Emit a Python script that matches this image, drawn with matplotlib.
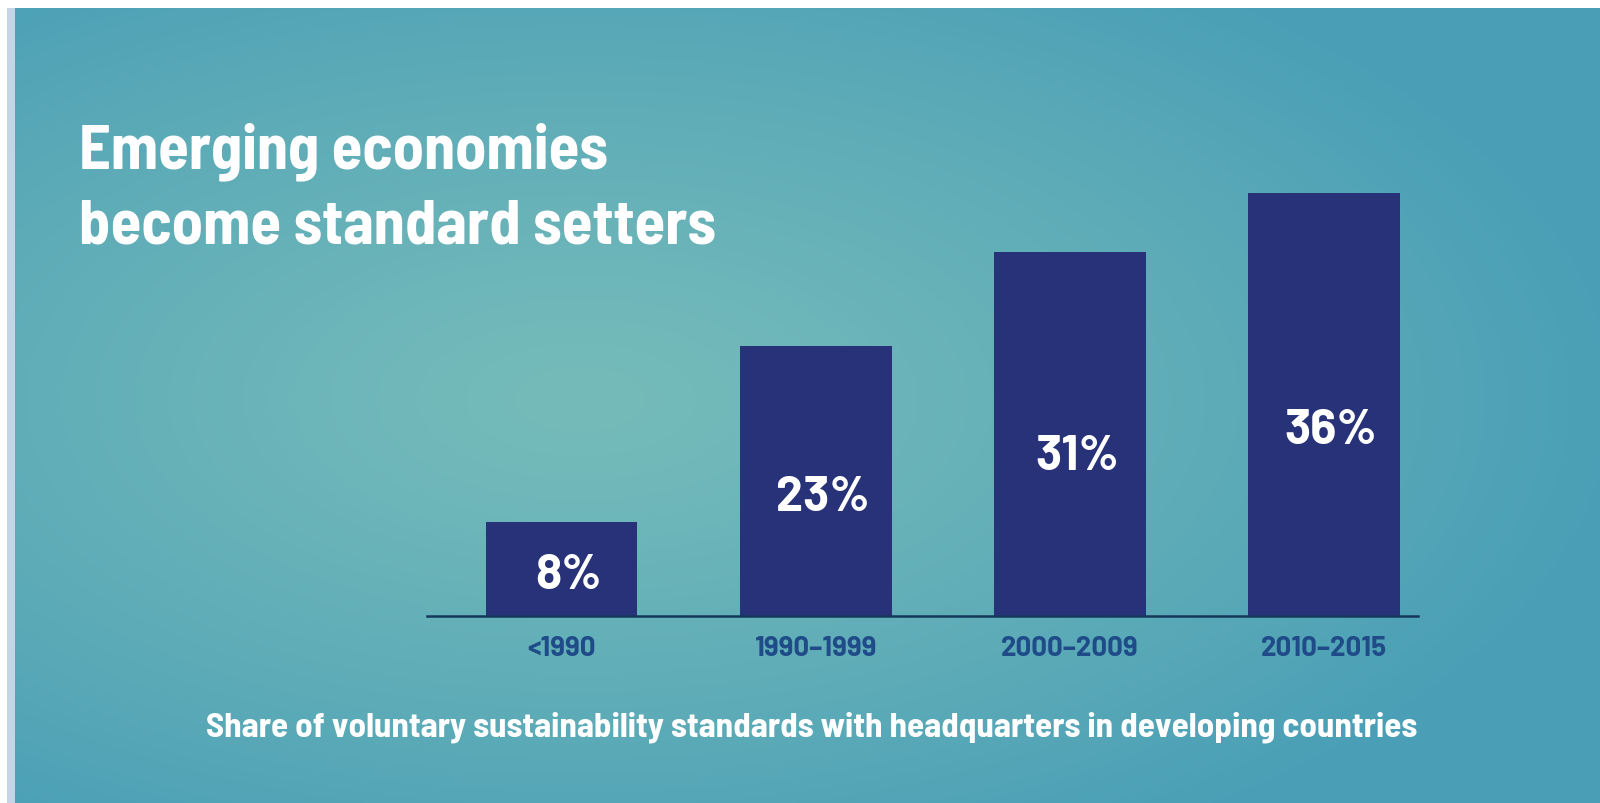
import numpy as np
import matplotlib
matplotlib.use('Agg')
import matplotlib.pyplot as plt
from matplotlib.colors import to_rgb
from matplotlib.patches import Rectangle

# data
periods = ['<1990', '1990–1999', '2000–2009', '2010–2015']
shares = [8, 23, 31, 36]
title_lines = ['Emerging economies', 'become standard setters']
caption = 'Share of voluntary sustainability standards with headquarters in developing countries'

W, H = 1600, 804
SEMI = ['Barlow Semi Condensed', 'Liberation Sans', 'DejaVu Sans']
WIDE = ['Barlow', 'Liberation Sans', 'DejaVu Sans']

fig = plt.figure(figsize=(W / 100, H / 100), dpi=100)

# teal radial background
bg = fig.add_axes([0, 0, 1, 1])
bg.axis('off')
yy, xx = np.mgrid[0:H, 0:W]
t = np.sqrt(((xx - 580) / 1050.0) ** 2 + ((yy - 400) / 520.0) ** 2)
t = np.clip(t, 0, 1) ** 1.2
c0 = np.array(to_rgb('#75bbba'))
c1 = np.array(to_rgb('#4a9fb6'))
img = c0 + (c1 - c0) * t[..., None]
bg.imshow(img, extent=[0, W, H, 0], aspect='auto', interpolation='bilinear')
bg.set_xlim(0, W)
bg.set_ylim(H, 0)
bg.add_patch(Rectangle((0, 0), W, 9, color='white', lw=0))
bg.add_patch(Rectangle((0, 0), 7, H, color='white', lw=0))
bg.add_patch(Rectangle((7, 9), 8, H, color='#c3d6e6', lw=0))

# bar chart
ax = fig.add_axes([427 / W, 187 / H, 991 / W, 470 / H])
ax.patch.set_alpha(0)
x = np.arange(len(shares))
ax.bar(x, shares, width=0.595, color='#283278', zorder=2)
ax.set_xlim(-0.531, 3.370)
ax.set_ylim(0, 40)
for s in ['top', 'left', 'right']:
    ax.spines[s].set_visible(False)
ax.spines['bottom'].set_color('#15385a')
ax.spines['bottom'].set_linewidth(1.8)
ax.spines['bottom'].set_zorder(3)
ax.set_yticks([])
ax.set_xticks(x, periods)
ax.tick_params(axis='x', length=0, pad=14, labelsize=20, labelcolor='#1f4c88')
for lab in ax.get_xticklabels():
    lab.set_fontfamily(WIDE)
    lab.set_fontweight('bold')

for i, v in enumerate(shares):
    ax.annotate(f'{v}%', (i, v * 0.44), xytext=(5, 0), textcoords='offset points',
                ha='center', va='center', color='white', fontsize=35,
                fontweight='bold', family=WIDE, zorder=4)

# titles
for line, base in zip(title_lines, [168, 243]):
    fig.text(79 / W, 1 - base / H, line, ha='left', va='baseline',
             color='white', fontsize=45, fontweight='bold', family=SEMI)
fig.text(812 / W, 1 - 737 / H, caption, ha='center', va='baseline',
         color='white', fontsize=25.2, fontweight='bold', family=SEMI)

fig.savefig('out.png', dpi=100)
